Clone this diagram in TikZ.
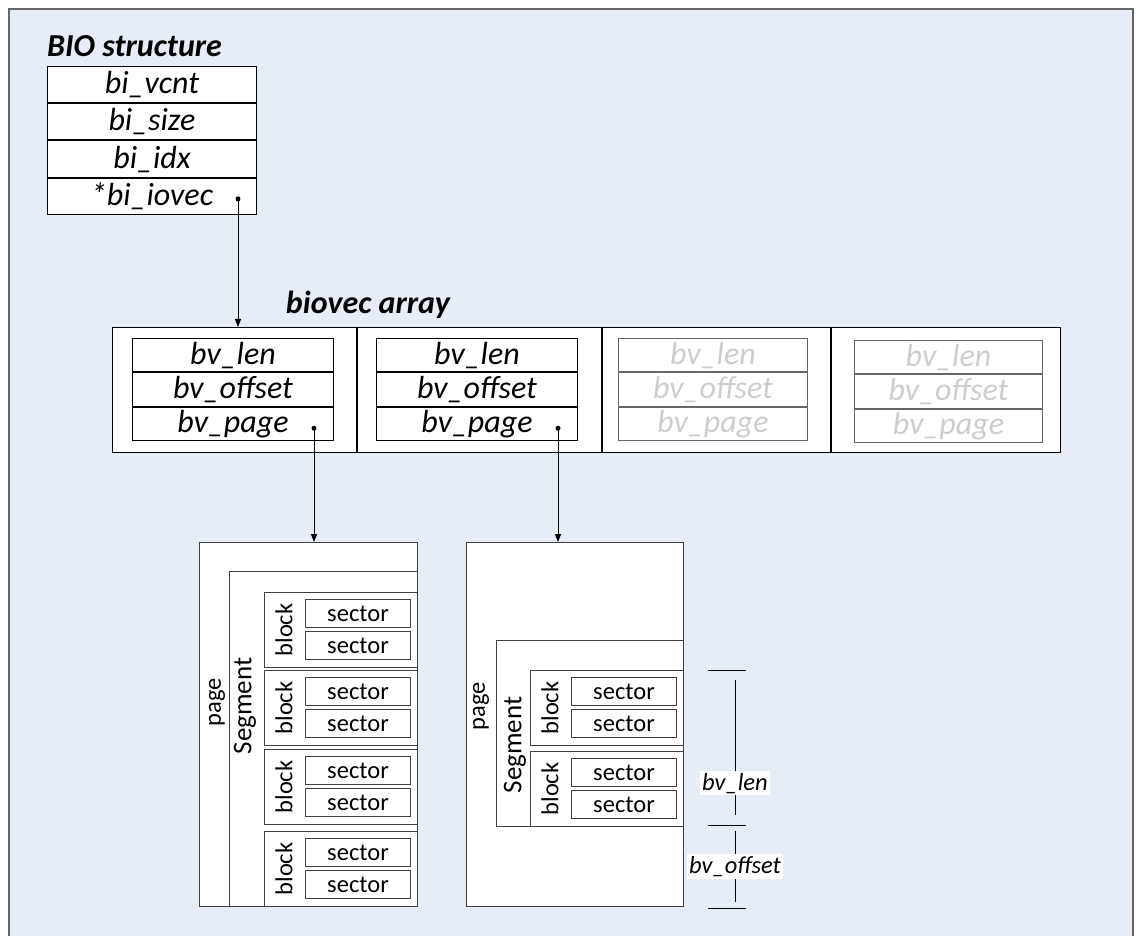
\documentclass[tikz,border=0pt]{standalone}
\usepackage{fontspec}
\setmainfont{Carlito}
\usetikzlibrary{arrows.meta, positioning}
\definecolor{panelblue}{RGB}{230,237,247}
\definecolor{fadedtext}{RGB}{205,205,205}
\newcommand{\bigtxt}{\fontsize{32}{36}\selectfont}
\newcommand{\smalltxt}{\fontsize{24.5}{28}\selectfont}

\begin{document}
\begin{tikzpicture}[x=1pt, y=-1pt,
  title/.style={font=\bigtxt\bfseries\itshape, inner sep=0pt},
  field/.style={rectangle, draw=black, line width=1pt, fill=white, inner sep=0pt,
                minimum height=36.25pt, minimum width=209pt, font=\bigtxt\itshape},
  vfield/.style={field, minimum height=33.3pt, minimum width=201pt},
  faded/.style={vfield, draw=black!60, text=fadedtext},
  cell/.style={rectangle, draw=black, line width=1pt, fill=white, inner sep=0pt,
               minimum height=125pt},
  box/.style={rectangle, draw=black!75, line width=1pt, fill=white, inner sep=0pt},
  sector/.style={box, minimum width=105pt, minimum height=28pt, font=\smalltxt},
  vlabel/.style={rotate=90, font=\smalltxt, inner sep=1pt},
  dot/.style={circle, fill=black, inner sep=0pt, minimum size=5pt},
  arr/.style={-{Triangle[length=8pt, width=6pt]}, line width=1pt},
  dimlabel/.style={fill=white, font=\smalltxt\itshape, inner sep=2pt}
]
% background panel
\clip (0,0) rectangle (1136,936);
\draw[draw=black!60, line width=1.5pt, fill=panelblue] (9,9) rectangle (1133,960);

% BIO structure
\node[title, anchor=base west] (biotitle) at (47,57) {BIO structure};
\node[field, anchor=north west] (vcnt) at (47,66) {bi\_vcnt};
\node[field, below=0pt of vcnt] (size) {bi\_size};
\node[field, below=0pt of size] (idx) {bi\_idx};
\node[field, below=0pt of idx] (iovec) {*bi\_iovec};
\node[dot] (iodot) at ([xshift=-19pt, yshift=-2.5pt]iovec.east) {};

% biovec array
\node[title, anchor=base] (bvtitle) at (368,313) {biovec array};
\node[cell, minimum width=244pt, anchor=north west] (cellA) at (112,327) {};
\node[cell, minimum width=244pt, right=0pt of cellA] (cellB) {};
\node[cell, minimum width=228pt, right=0pt of cellB] (cellC) {};
\node[cell, minimum width=229pt, right=0pt of cellC] (cellD) {};

\node[vfield, anchor=north west] (lenA) at (132,338) {bv\_len};
\node[vfield, below=0pt of lenA] (offA) {bv\_offset};
\node[vfield, below=0pt of offA] (pgA) {bv\_page};
\node[vfield, anchor=north west] (lenB) at (376,338) {bv\_len};
\node[vfield, below=0pt of lenB] (offB) {bv\_offset};
\node[vfield, below=0pt of offB] (pgB) {bv\_page};
\node[faded, minimum width=189pt, anchor=north west] (lenC) at (618,338) {bv\_len};
\node[faded, minimum width=189pt, below=0pt of lenC] (offC) {bv\_offset};
\node[faded, minimum width=189pt, below=0pt of offC] (pgC) {bv\_page};
\node[faded, minimum width=188pt, anchor=north west] (lenD) at (854,340) {bv\_len};
\node[faded, minimum width=188pt, below=0pt of lenD] (offD) {bv\_offset};
\node[faded, minimum width=188pt, below=0pt of offD] (pgD) {bv\_page};
\node[dot] (dotA) at ([xshift=-20pt, yshift=-4.5pt]pgA.east) {};
\node[dot] (dotB) at ([xshift=-20pt, yshift=-4.5pt]pgB.east) {};

% pages and segments
\node[box, minimum width=218pt, minimum height=364pt, anchor=north west] (pg1) at (199,542) {};
\node[box, minimum width=188pt, minimum height=335pt, anchor=north west] (seg1) at (229,571) {};
\node[box, minimum width=217pt, minimum height=364pt, anchor=north west] (pg2) at (466,542) {};
\node[vlabel, fill=white, minimum width=122pt] (pglab2) at (481,706) {page};
\node[box, minimum width=187pt, minimum height=186pt, anchor=north west] (seg2) at (496,640) {};
\node[vlabel] (pglab1) at (217,702) {page};
\node[vlabel, font=\fontsize{27}{30}\selectfont] (seglab1) at (245,706) {Segment};
\node[vlabel, font=\fontsize{27}{30}\selectfont] (seglab2) at (515,745) {Segment};

% blocks with two sectors each
\foreach \n/\x/\y in {a/264/592, b/264/670, c/264/749, d/264/831, e/530/670, f/530/751} {
  \node[box, minimum width=153pt, minimum height=75pt, anchor=north west] (blk\n) at (\x,\y) {};
  \node[vlabel] (blklab\n) at ([xshift=20pt]blk\n.west) {block};
  \node[sector, anchor=north west] (sec\n1) at (\x+41,\y+7) {sector};
  \node[sector, below=3pt of sec\n1] (sec\n2) {sector};
}

% bv_len / bv_offset markers
\coordinate (lenTop) at (735,670);
\coordinate (lenBot) at (735,825);
\coordinate (offBot) at (735,908);
\draw[line width=1pt] ([xshift=-27pt]lenTop) -- ([xshift=11pt]lenTop);
\draw[line width=1pt] ([xshift=-27pt]lenBot) -- ([xshift=11pt]lenBot);
\draw[line width=1pt] ([xshift=-27pt]offBot) -- ([xshift=11pt]offBot);
\draw[line width=1pt, shorten <=10pt, shorten >=10pt] (lenTop) -- node[dimlabel, pos=0.73] (lenlab) {bv\_len} (lenBot);
\draw[line width=1pt, shorten <=6pt, shorten >=6pt] (lenBot) -- node[dimlabel] (offlab) {bv\_offset} (offBot);

% Arrows
\draw[arr] (iodot.center) -- (iodot |- cellA.north);
\draw[arr] (dotA.center) -- (dotA |- pg1.north);
\draw[arr] (dotB.center) -- (dotB |- pg2.north);
\end{tikzpicture}
\end{document}
